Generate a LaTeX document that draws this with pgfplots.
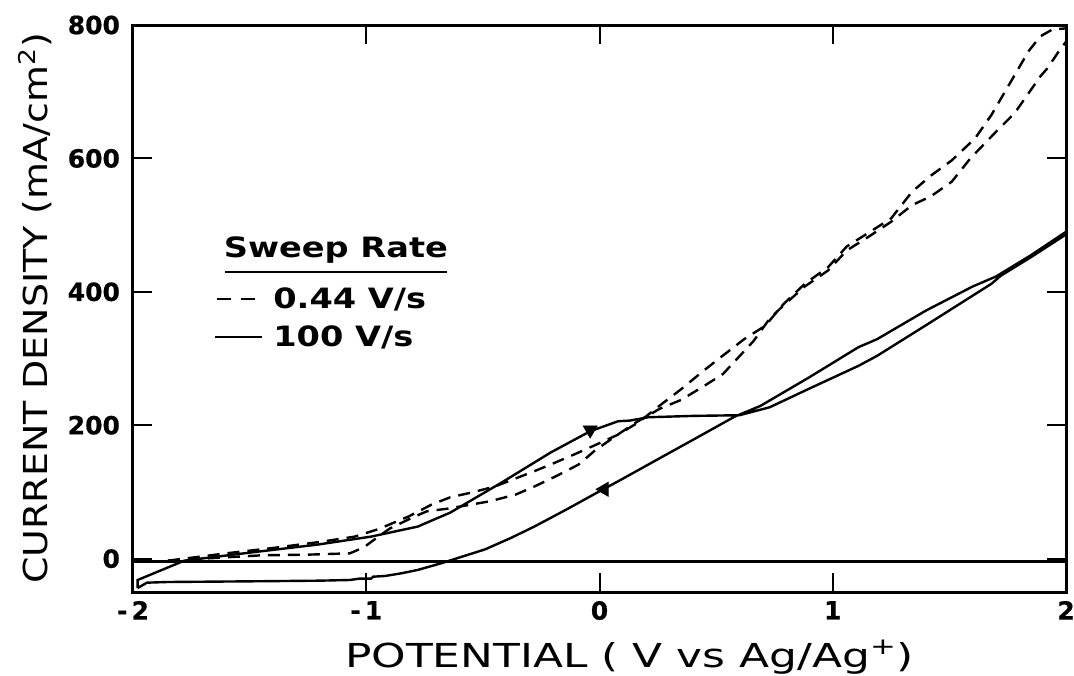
\documentclass[border=0pt]{standalone}
\usepackage{fontspec}
\setmainfont{DejaVu Sans}
\newfontfamily\labfont[FakeStretch=1.15]{DejaVu Sans}
\newfontfamily\xlabfont[FakeStretch=1.33]{DejaVu Sans}
\newfontfamily\tickfont[FakeBold=0.6]{DejaVu Sans Bold}
\newfontfamily\legfont[FakeStretch=1.2]{DejaVu Sans}
\usepackage{pgfplots}
\pgfplotsset{compat=1.18}
\begin{document}
\begin{tikzpicture}
\begin{axis}[
  at={(0,0)}, anchor=south west,
  scale only axis, width=466.5pt, height=283.5pt,
  xmin=-2, xmax=2, ymin=-50, ymax=800,
  xtick={-2,-1,0,1,2}, ytick={0,200,400,600,800},
  xticklabels={{-\,2},{-\,1},0,1,2},
  xtick pos=both, ytick pos=both,
  tick align=inside, major tick length=9.5pt,
  tick style={line width=1pt, black},
  axis line style={line width=1.5pt},
  /pgf/number format/assume math mode=true,
  tick label style={font=\tickfont\fontsize{12.5}{14}\selectfont},
  yticklabel style={xshift=-3pt},
  xticklabel style={yshift=-1pt},
  clip=false,
]
% solid loop, 100 V/s
\addplot[black, line width=1.2pt] coordinates {
(-1.98,-44) (-1.94,-36) (-1.85,-35) (-1.5,-34) (-1.2,-33) (-1.07,-32) (-1.03,-30)
(-0.98,-30) (-0.97,-27) (-0.92,-26) (-0.85,-22) (-0.78,-17) (-0.67,-6) (-0.58,4)
(-0.49,14) (-0.38,31) (-0.28,48) (-0.14,74) (0.0,101) (0.08,116) (0.25,149)
(0.4,178) (0.58,213) (0.69,229) (0.9,272) (1.11,317) (1.19,329) (1.4,372)
(1.6,408) (1.70,423) (1.85,455) (2.0,490)
(2.0,486) (1.85,452) (1.72,424) (1.68,412) (1.4,350) (1.19,304) (1.11,289)
(0.9,255) (0.73,227) (0.6,215) (0.4,214) (0.21,212) (0.13,207) (0.08,206)
(-0.04,191) (-0.21,159) (-0.42,114) (-0.64,69) (-0.78,48) (-0.98,33) (-1.21,21)
(-1.5,9) (-1.78,-3) (-1.98,-32) (-1.98,-44)
};
% baseline
\addplot[black, line width=1.2pt] coordinates {(-2,-4) (2,-4)};
% dashed, 0.44 V/s
\addplot[black, line width=1.2pt, dash pattern=on 6pt off 4pt] coordinates {
(-1.85,-3) (-1.6,8) (-1.4,16) (-1.2,25) (-1.05,33) (-0.95,44) (-0.82,63)
(-0.72,81) (-0.64,92) (-0.55,99) (-0.45,108) (-0.28,131) (-0.19,144) (-0.11,156)
(-0.02,170) (0.08,186) (0.17,205) (0.26,230) (0.35,254) (0.44,280) (0.52,302)
(0.62,329) (0.71,349) (0.79,382) (0.88,412) (0.98,437) (1.06,468) (1.16,490)
(1.25,510) (1.34,550) (1.42,574) (1.51,597) (1.61,630) (1.68,665) (1.73,695)
(1.79,731) (1.84,761) (1.89,783) (1.94,793) (2.0,795)
};
\addplot[black, line width=1.2pt, dash pattern=on 6pt off 4pt] coordinates {
(-1.85,-3) (-1.6,2) (-1.45,5) (-1.25,6) (-1.07,8) (-1.01,17) (-0.96,30)
(-0.9,45) (-0.8,62) (-0.74,71) (-0.65,75) (-0.47,86) (-0.36,96) (-0.28,108)
(-0.19,123) (-0.09,141) (-0.02,162) (0.07,184) (0.16,205) (0.26,225) (0.35,238)
(0.44,257) (0.53,277) (0.62,311) (0.66,326) (0.73,360) (0.79,380) (0.88,408)
(0.98,432) (1.06,462) (1.16,484) (1.25,505) (1.34,530) (1.42,543) (1.51,565)
(1.59,600) (1.7,640) (1.78,668) (1.84,698) (1.89,723) (1.92,735) (1.97,761)
(2.0,775)
};
% direction arrows
\addplot[only marks, black, mark=triangle*, mark size=4pt, mark options={rotate=180}] coordinates {(-0.04,193)};
\addplot[only marks, black, mark=triangle*, mark size=4pt, mark options={rotate=90}] coordinates {(0.02,104)};
% legend
\node[font=\legfont\bfseries\fontsize{14}{16}\selectfont] at (axis cs:-1.13,462) {Sweep Rate};
\draw[line width=1pt] (axis cs:-1.605,430) -- (axis cs:-0.652,430);
\draw[line width=1.2pt, dash pattern=on 7pt off 5pt] (axis cs:-1.64,389) -- (axis cs:-1.446,389);
\node[anchor=west, inner sep=0pt, font=\legfont\bfseries\fontsize{14}{16}\selectfont] at (axis cs:-1.40,389) {0.44 V/s};
\draw[line width=1.2pt] (axis cs:-1.65,332) -- (axis cs:-1.446,332);
\node[anchor=west, inner sep=0pt, font=\legfont\bfseries\fontsize{14}{16}\selectfont] at (axis cs:-1.40,332) {100 V/s};
% axis labels
\node[font=\xlabfont\fontsize{16.5}{18}\selectfont] at ([xshift=15pt,yshift=-32.5pt]rel axis cs:0.5,0) {POTENTIAL ( V vs Ag/Ag\textsuperscript{+})};
\node[rotate=90, font=\labfont\fontsize{16.5}{18}\selectfont] at ([xshift=-49pt]rel axis cs:0,0.5) {CURRENT DENSITY (mA/cm\textsuperscript{2})};
\end{axis}
\pgfresetboundingbox
\path[use as bounding box] (-66.5pt,-41.5pt) rectangle (470.5pt,296pt);
\end{tikzpicture}
\end{document}
